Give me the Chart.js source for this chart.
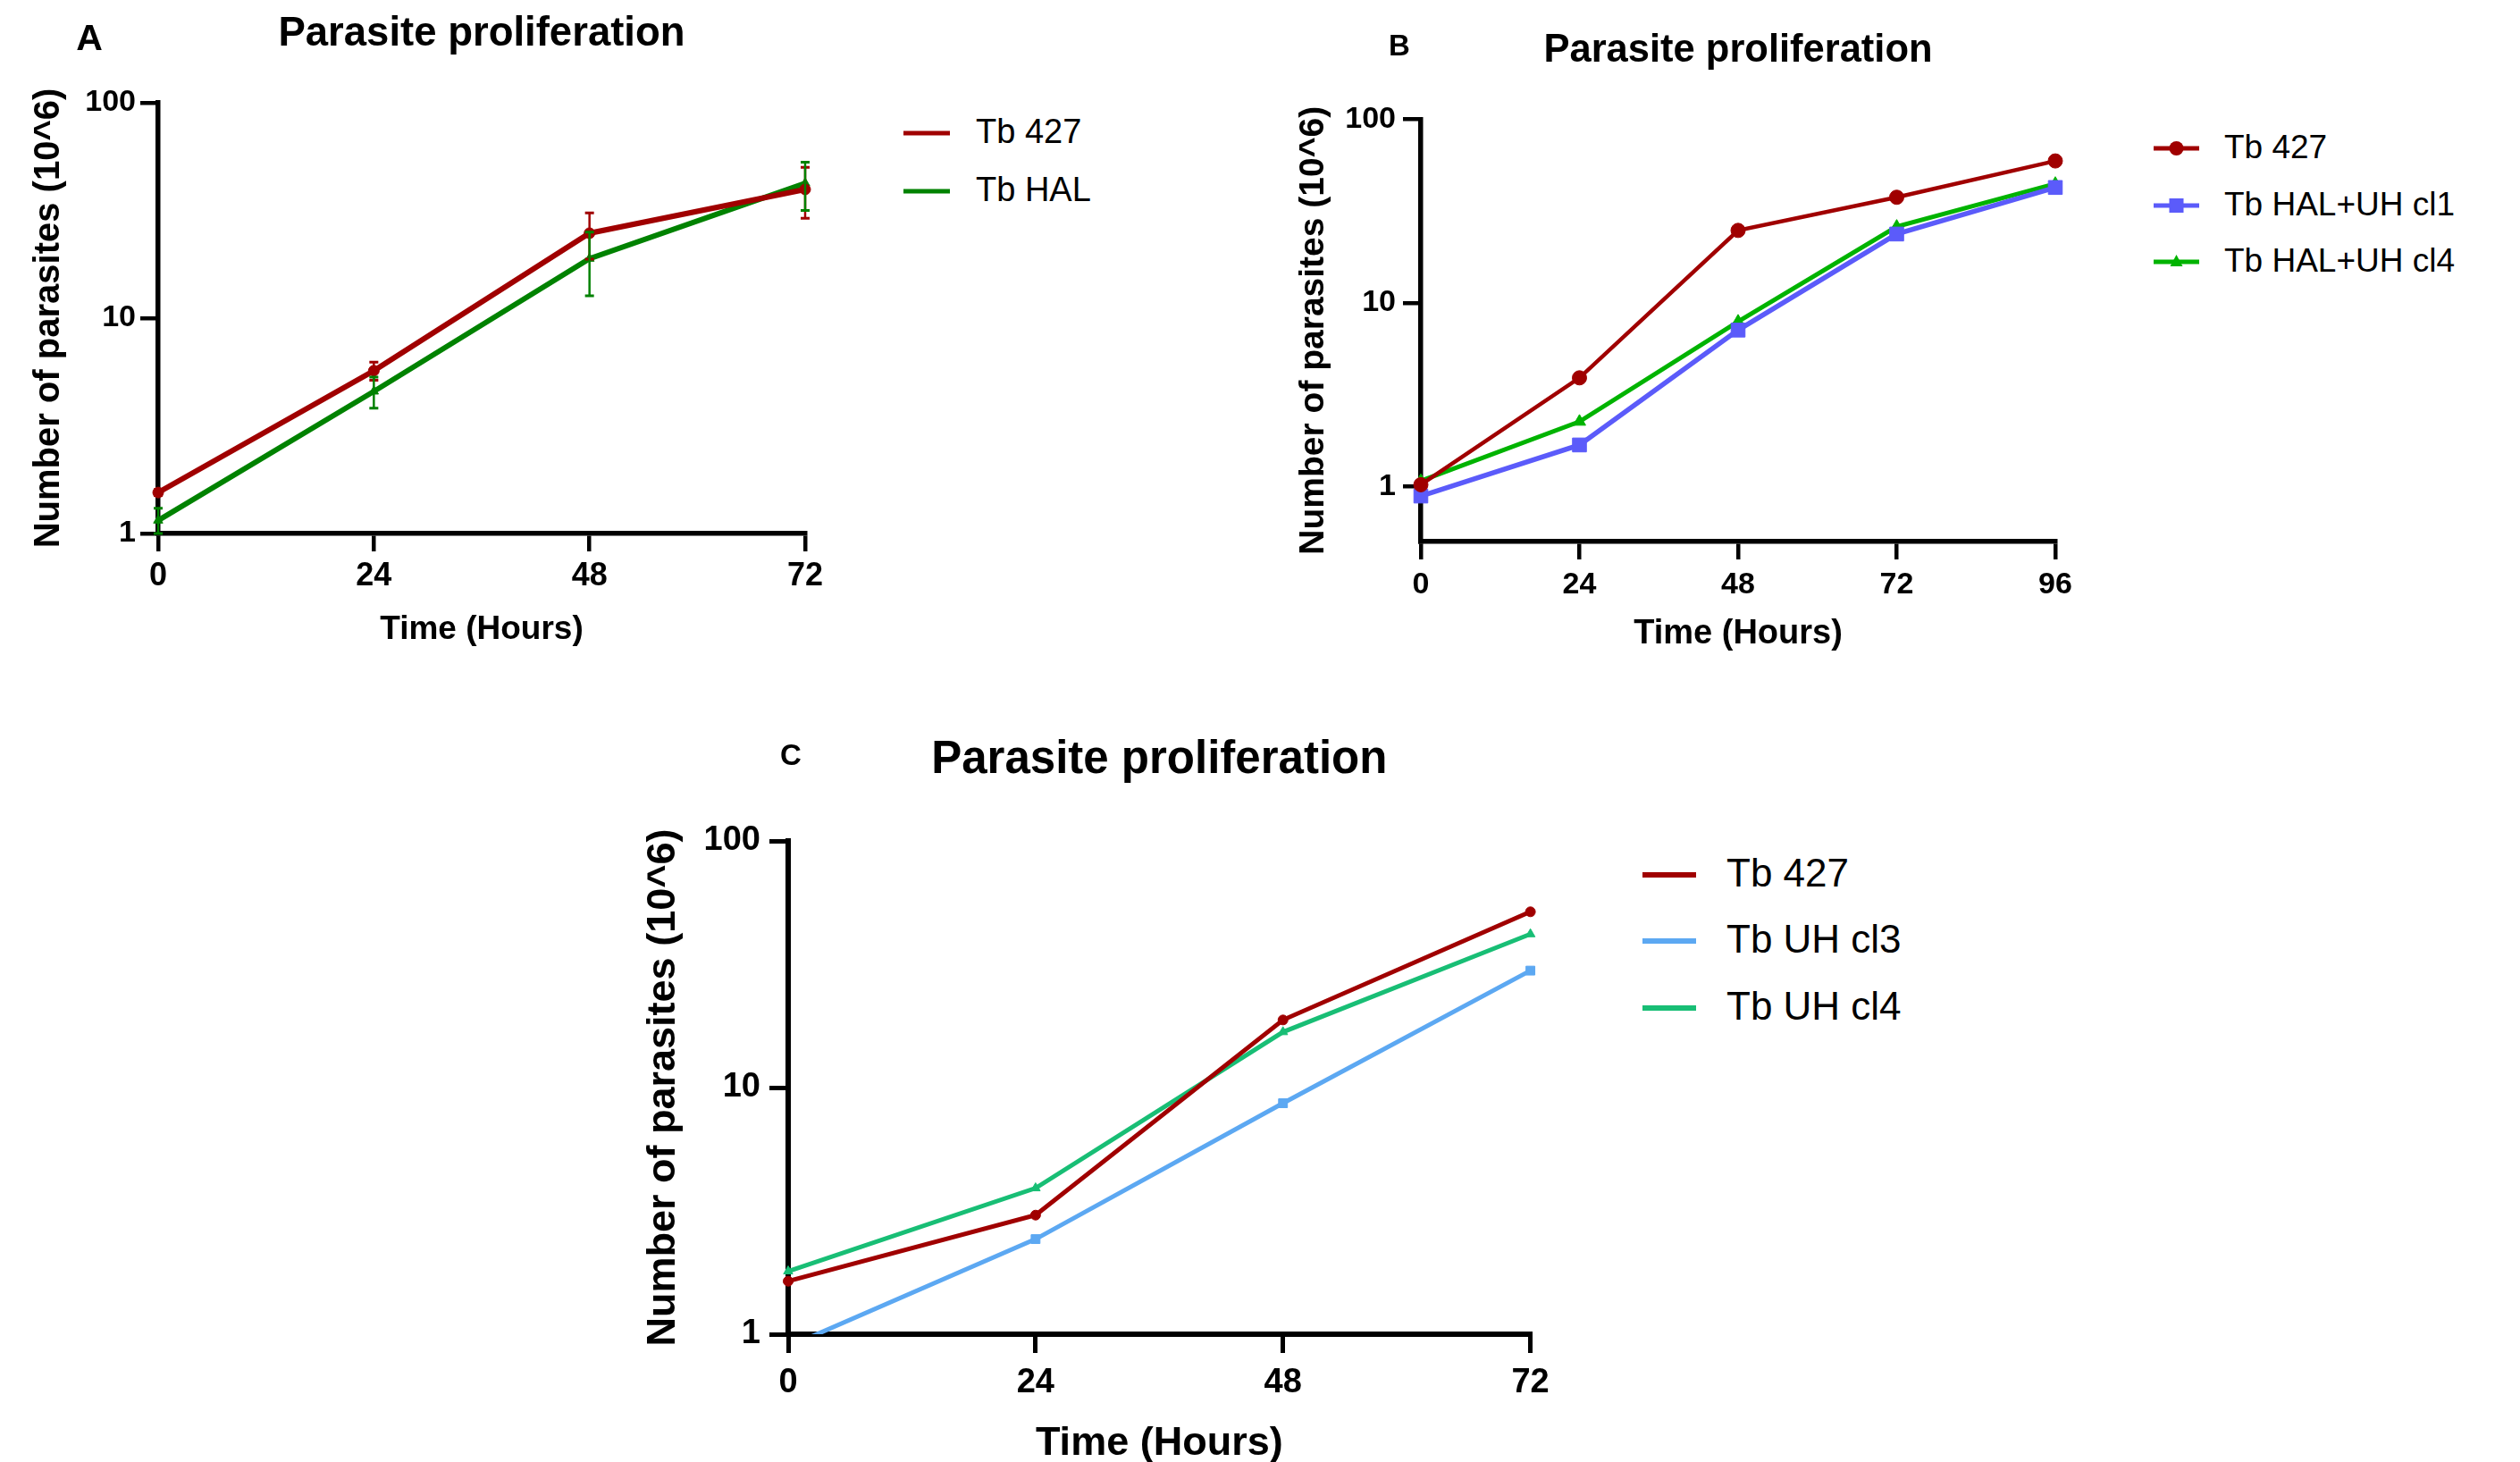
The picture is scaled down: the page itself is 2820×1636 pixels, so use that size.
<!DOCTYPE html>
<html>
<head>
<meta charset="utf-8">
<script src="https://cdn.jsdelivr.net/npm/chart.js@4.4.1/dist/chart.umd.min.js"></script>
<style>
html, body { margin: 0; padding: 0; background: #fff; }
body { width: 2820px; height: 1636px; position: relative; overflow: hidden; font-family: "Liberation Sans", Arial, sans-serif; }
canvas, svg, .txt { position: absolute; }
.txt { line-height: 1; white-space: nowrap; color: #000; }
</style>
</head>
<body>
<canvas id="chartA"></canvas>
<canvas id="chartB"></canvas>
<canvas id="chartC"></canvas>
<script>
// panel A
const hoursA = [0, 24, 48, 72];
const seriesA = ['Tb 427', 'Tb HAL'];
const tb427A = [1.55, 5.7, 24.8, 39.6];
const tb427AErr = [0.05, 0.55, 6.0, 10.5];
const tbHalA = [1.15, 4.57, 18.9, 42.3];
const tbHalAErr = [0.16, 0.75, 6.2, 10.7];

// panel B
const hoursB = [0, 24, 48, 72, 96];
const seriesB = ['Tb 427', 'Tb HAL+UH cl1', 'Tb HAL+UH cl4'];
const tb427B = [1.02, 3.9, 24.8, 37.6, 59.3];
const halUh1B = [0.885, 1.68, 7.1, 23.7, 42.5];
const halUh4B = [1.07, 2.25, 7.9, 26.0, 44.5];

// panel C
const hoursC = [0, 24, 48, 72];
const seriesC = ['Tb 427', 'Tb UH cl3', 'Tb UH cl4'];
const tb427C = [1.64, 3.04, 18.8, 51.6];
const uh3C = [0.89, 2.43, 8.64, 29.8];
const uh4C = [1.80, 3.91, 16.8, 41.9];

const yTicks = [1, 10, 100];
const yTickLabels = ['1', '10', '100'];
const chartTitle = 'Parasite proliferation';
const xTitle = 'Time (Hours)';
const yTitle = 'Number of parasites (10^6)';

const FONT = '"Liberation Sans", Arial, sans-serif';
const RED = '#A00000';

const pts = (xs, ys) => xs.map((x, i) => ({ x: x, y: ys[i] }));
const font = (size, bold) => ({ family: FONT, size: size, weight: bold ? 'bold' : 'normal', lineHeight: 1.2 });

// error bars drawn through the chart scales
const errorBars = {
  id: 'errorBars',
  afterDatasetsDraw(chart) {
    const { ctx, scales: { x, y } } = chart;
    chart.data.datasets.forEach(ds => {
      if (!ds.errors) return;
      ctx.save();
      ctx.strokeStyle = ds.borderColor;
      ds.data.forEach((p, j) => {
        const e = ds.errors[j];
        const px = x.getPixelForValue(p.x);
        const top = y.getPixelForValue(p.y + e);
        const bot = y.getPixelForValue(Math.max(p.y - e, y.min));
        ctx.lineWidth = 2.5;
        ctx.beginPath();
        ctx.moveTo(px, top); ctx.lineTo(px, bot);
        ctx.stroke();
        ctx.lineWidth = 3;
        ctx.beginPath();
        ctx.moveTo(px - 5, top); ctx.lineTo(px + 5, top);
        ctx.moveTo(px - 5, bot); ctx.lineTo(px + 5, bot);
        ctx.stroke();
      });
      ctx.restore();
    });
  }
};

function buildPanel(id, g, xTicks, yMin, datasets, plugins) {
  const cv = document.getElementById(id);
  cv.width = g.cw; cv.height = g.ch;
  cv.style.left = g.cl + 'px'; cv.style.top = g.ct + 'px';
  cv.style.width = g.cw + 'px'; cv.style.height = g.ch + 'px';
  const lh = s => s * 1.2;
  const padLeft = g.yTitleCX - g.cl - lh(g.yTitleSize) / 2;
  const yWidth = g.L - g.cl - padLeft;
  const padTop = g.titleCY - g.ct - lh(g.titleSize) / 2;
  const titleBottom = g.T - g.ct - padTop - lh(g.titleSize);
  const padRight = g.cl + g.cw - g.R;
  const xHeight = g.xTitleCY + lh(g.xTitleSize) / 2 - g.B;
  const padBottom = g.ct + g.ch - g.B - xHeight;
  const grid = { display: true, drawOnChartArea: false, drawTicks: true, tickLength: g.tickLen,
                 lineWidth: g.tickW, tickWidth: g.tickW, color: '#000', tickColor: '#000' };
  return new Chart(cv, {
    type: 'line',
    data: { datasets: datasets },
    options: {
      responsive: false,
      animation: false,
      devicePixelRatio: 1,
      layout: { padding: { left: padLeft, top: padTop, right: padRight, bottom: padBottom } },
      plugins: {
        legend: { display: false },
        tooltip: { enabled: false },
        title: { display: true, text: chartTitle, fullSize: false, color: '#000',
                 font: font(g.titleSize, true), padding: { top: 0, bottom: titleBottom } }
      },
      scales: {
        x: {
          type: 'linear', min: xTicks[0], max: xTicks[xTicks.length - 1],
          afterBuildTicks: s => { s.ticks = xTicks.map(v => ({ value: v })); },
          afterFit: s => { s.height = xHeight; s.paddingLeft = 0; s.paddingRight = 0; },
          ticks: { autoSkip: false, maxRotation: 0, color: '#000', font: font(g.xTickSize, true),
                   padding: g.xTickPad, callback: v => String(v) },
          grid: grid,
          border: { display: true, color: '#000', width: g.axisW },
          title: { display: true, text: xTitle, color: '#000', font: font(g.xTitleSize, true), padding: 0 }
        },
        y: {
          type: 'logarithmic', min: yMin, max: 100,
          afterBuildTicks: s => { s.ticks = yTicks.map(v => ({ value: v })); },
          afterFit: s => { s.width = yWidth; s.paddingTop = 0; s.paddingBottom = 0; },
          ticks: { autoSkip: false, color: '#000', font: font(g.yTickSize, true),
                   padding: g.yTickPad, callback: (v, i) => yTickLabels[i] },
          grid: grid,
          border: { display: true, color: '#000', width: g.axisW },
          title: { display: true, text: yTitle, color: '#000', font: font(g.yTitleSize, true), padding: 0 }
        }
      }
    },
    plugins: plugins || []
  });
}

function line(label, xs, ys, color, width, style, r, extra) {
  return Object.assign({
    label: label, data: pts(xs, ys), borderColor: color, backgroundColor: color,
    borderWidth: width, pointStyle: style, pointRadius: r, pointBorderWidth: 1,
    pointBackgroundColor: color, pointBorderColor: color, tension: 0, clip: false
  }, extra || {});
}

buildPanel('chartA',
  { cl: 0, ct: 0, cw: 960, ch: 745, L: 177, T: 115, R: 901, B: 597,
    titleCY: 38, titleSize: 45.5, yTitleCX: 55, yTitleSize: 40, xTitleCY: 705, xTitleSize: 37,
    yTickSize: 34, xTickSize: 36, yTickPad: 5, xTickPad: 6, tickLen: 20, tickW: 4.5, axisW: 5.5 },
  hoursA, 1,
  [
    line(seriesA[0], hoursA, tb427A, RED, 6, 'circle', 6, { errors: tb427AErr }),
    line(seriesA[1], hoursA, tbHalA, '#008200', 6, 'triangle', 6, { errors: tbHalAErr })
  ], [errorBars]);

buildPanel('chartB',
  { cl: 1400, ct: 0, cw: 960, ch: 760, L: 1590, T: 133.5, R: 2300, B: 606,
    titleCY: 56.6, titleSize: 43.5, yTitleCX: 1470, yTitleSize: 39, xTitleCY: 710, xTitleSize: 38,
    yTickSize: 34, xTickSize: 34, yTickPad: 8, xTickPad: 8, tickLen: 20, tickW: 4.5, axisW: 5.5 },
  hoursB, 0.5,
  [
    line(seriesB[0], hoursB, tb427B, RED, 4.5, 'circle', 8),
    line(seriesB[1], hoursB, halUh1B, '#5B5BFA', 5.5, 'rect', 11),
    line(seriesB[2], hoursB, halUh4B, '#00B300', 5, 'triangle', 8)
  ]);

buildPanel('chartC',
  { cl: 680, ct: 780, cw: 1100, ch: 870, L: 882, T: 941, R: 1712.6, B: 1493,
    titleCY: 850.6, titleSize: 51, yTitleCX: 743, yTitleSize: 45, xTitleCY: 1616, xTitleSize: 45,
    yTickSize: 38, xTickSize: 38, yTickPad: 10, xTickPad: 11, tickLen: 21, tickW: 5, axisW: 6 },
  hoursC, 1,
  [
    line(seriesC[0], hoursC, tb427C, RED, 5, 'circle', 5.5),
    line(seriesC[1], hoursC, uh3C, '#5CA8F2', 5, 'rect', 7,
         { clip: { left: false, top: false, right: false, bottom: 0 } }),
    line(seriesC[2], hoursC, uh4C, '#18BE75', 5, 'triangle', 6)
  ]);

// panel letters and legends (HTML text)
function addText(txt, left, top, size, bold, width) {
  const d = document.createElement('div');
  d.className = 'txt';
  d.textContent = txt;
  d.style.left = left + 'px';
  d.style.top = top + 'px';
  d.style.fontSize = size + 'px';
  d.style.fontWeight = bold ? 'bold' : 'normal';
  if (width) { d.style.width = width + 'px'; d.style.textAlign = 'center'; }
  document.body.appendChild(d);
}

function addLegend(names, colors, marks, x0, w, ys, lw, textX, size) {
  const NS = 'http://www.w3.org/2000/svg';
  names.forEach((name, i) => {
    const svg = document.createElementNS(NS, 'svg');
    svg.setAttribute('width', w); svg.setAttribute('height', 30);
    svg.style.left = x0 + 'px'; svg.style.top = (ys[i] - 15) + 'px';
    const ln = document.createElementNS(NS, 'line');
    ln.setAttribute('x1', 0); ln.setAttribute('x2', w);
    ln.setAttribute('y1', 15); ln.setAttribute('y2', 15);
    ln.setAttribute('stroke', colors[i]); ln.setAttribute('stroke-width', lw);
    svg.appendChild(ln);
    const m = marks ? marks[i] : null;
    const cx = w / 2;
    let el = null;
    if (m === 'circle') {
      el = document.createElementNS(NS, 'circle');
      el.setAttribute('cx', cx); el.setAttribute('cy', 15); el.setAttribute('r', 8);
    } else if (m === 'rect') {
      el = document.createElementNS(NS, 'rect');
      el.setAttribute('x', cx - 8); el.setAttribute('y', 7); el.setAttribute('width', 16); el.setAttribute('height', 16);
    } else if (m === 'triangle') {
      el = document.createElementNS(NS, 'polygon');
      el.setAttribute('points', `${cx},7 ${cx + 7},20 ${cx - 7},20`);
    }
    if (el) { el.setAttribute('fill', colors[i]); svg.appendChild(el); }
    document.body.appendChild(svg);
    addText(name, textX, ys[i] - 2 - 0.49 * size, size, false);
  });
}

addText('A', 70, 22, 41, true, 60);
addText('B', 1536, 34, 33, true, 60);
addText('C', 855, 828, 33, true, 60);

addLegend(seriesA, [RED, '#008200'], null, 1011, 52, [149, 214], 5, 1092, 38);
addLegend(seriesB, [RED, '#5B5BFA', '#00B300'], ['circle', 'rect', 'triangle'], 2410, 51, [166, 230, 293], 5, 2489, 37);
addLegend(seriesC, [RED, '#5CA8F2', '#18BE75'], null, 1838, 60, [979, 1053, 1128], 6, 1932, 44);
</script>
</body>
</html>
